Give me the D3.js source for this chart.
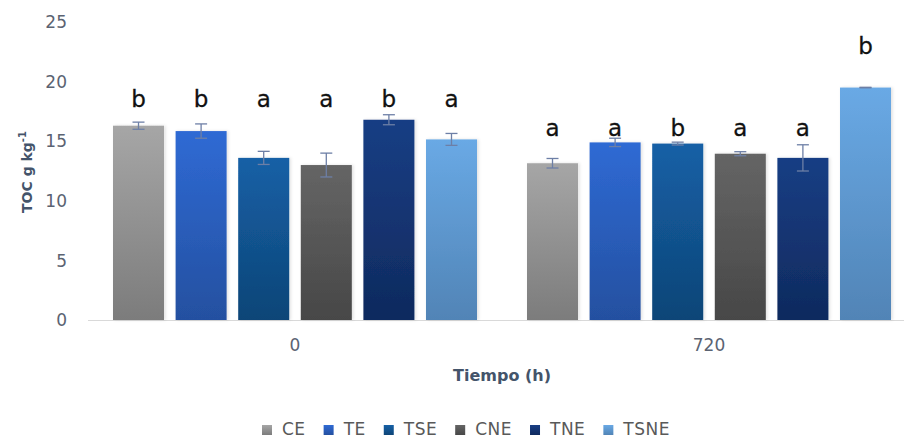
<!DOCTYPE html>
<html><head><meta charset="utf-8">
<script src="https://cdn.jsdelivr.net/npm/d3@7"></script>
<style>body{margin:0;background:#fff}svg{display:block}</style>
</head><body>
<svg id="c" width="904" height="439"></svg>
<script>
const groups = ["0", "720"];
const series = ["CE", "TE", "TSE", "CNE", "TNE", "TSNE"];
const values0 = [16.3, 15.85, 13.6, 13.0, 16.8, 15.15];
const values720 = [13.15, 14.9, 14.8, 13.95, 13.6, 19.5];
const errors0 = [0.3, 0.6, 0.55, 1.0, 0.42, 0.5];
const errors720 = [0.4, 0.35, 0.12, 0.17, 1.1, 0.02];
const letters0 = ["b", "b", "a", "a", "b", "a"];
const letters720 = ["a", "a", "b", "a", "a", "b"];
const letterLevel0 = [17.87, 17.87, 17.87, 17.87, 17.87, 17.87];
const letterLevel720 = [15.44, 15.44, 15.44, 15.44, 15.44, 22.3];
const yTicks = [0, 5, 10, 15, 20, 25];
const colorsTop = ["#a6a6a6", "#2f6ad4", "#1560a6", "#656565", "#183e84", "#69a9e5"];
const colorsBottom = ["#7c7c7c", "#2450a0", "#0e4577", "#474747", "#0f2a5e", "#5184b6"];

const svg = d3.select("#c");
const defs = svg.append("defs");
series.forEach((s, i) => {
  const g = defs.append("linearGradient").attr("id", "g" + i)
    .attr("x1", 0).attr("y1", 0).attr("x2", 0).attr("y2", 1);
  g.append("stop").attr("offset", "0%").attr("stop-color", colorsTop[i]);
  g.append("stop").attr("offset", "100%").attr("stop-color", colorsBottom[i]);
});
const f = defs.append("filter").attr("id", "sh").attr("x", "-20%").attr("y", "-5%").attr("width", "140%").attr("height", "110%");
f.append("feDropShadow").attr("dx", 1.5).attr("dy", 0).attr("stdDeviation", 1.8)
  .attr("flood-color", "#000").attr("flood-opacity", 0.12);

const data = groups.map((g, gi) => ({
  group: g,
  items: series.map((s, i) => ({
    s, i,
    v: gi === 0 ? values0[i] : values720[i],
    e: gi === 0 ? errors0[i] : errors720[i],
    l: gi === 0 ? letters0[i] : letters720[i],
    ly: gi === 0 ? letterLevel0[i] : letterLevel720[i]
  }))
}));

const y = d3.scaleLinear().domain([0, 25]).range([320, 22]);
const x0 = d3.scaleBand().domain(groups).range([88, 916]).padding(0);
const x1 = d3.scaleBand().domain(series).range([25, x0.bandwidth() - 25]).paddingInner(0.185).paddingOuter(0);

// y ticks
const tickColor = "#5b6372";
svg.append("g").selectAll("text").data(yTicks).join("text")
  .attr("x", 67).attr("y", d => y(d)).attr("dy", "0.36em")
  .attr("text-anchor", "end")
  .attr("font-family", "DejaVu Sans").attr("font-size", 17)
  .attr("fill", tickColor).text(d => d);

// baseline
svg.append("line").attr("x1", 88).attr("x2", 904).attr("y1", y(0) + 0.5).attr("y2", y(0) + 0.5)
  .attr("stroke", "#d9d9d9").attr("stroke-width", 1);

const gg = svg.append("g").selectAll("g").data(data).join("g")
  .attr("transform", d => `translate(${x0(d.group)},0)`);

gg.selectAll("rect").data(d => d.items).join("rect")
  .attr("x", d => x1(d.s)).attr("width", x1.bandwidth())
  .attr("y", d => y(d.v)).attr("height", d => y(0) - y(d.v))
  .attr("fill", d => `url(#g${d.i})`).attr("filter", "url(#sh)");

const eb = gg.selectAll("g.eb").data(d => d.items).join("g").attr("class", "eb")
  .attr("stroke", "#6d7fa6").attr("stroke-width", 1.3);
eb.append("line")
  .attr("x1", d => x1(d.s) + x1.bandwidth() / 2).attr("x2", d => x1(d.s) + x1.bandwidth() / 2)
  .attr("y1", d => y(d.v + d.e)).attr("y2", d => y(d.v - d.e));
eb.append("line")
  .attr("x1", d => x1(d.s) + x1.bandwidth() / 2 - 6).attr("x2", d => x1(d.s) + x1.bandwidth() / 2 + 6)
  .attr("y1", d => y(d.v + d.e)).attr("y2", d => y(d.v + d.e));
eb.append("line")
  .attr("x1", d => x1(d.s) + x1.bandwidth() / 2 - 6).attr("x2", d => x1(d.s) + x1.bandwidth() / 2 + 6)
  .attr("y1", d => y(d.v - d.e)).attr("y2", d => y(d.v - d.e));

gg.selectAll("text.lt").data(d => d.items).join("text").attr("class", "lt")
  .attr("x", d => x1(d.s) + x1.bandwidth() / 2).attr("y", d => y(d.ly))
  .attr("text-anchor", "middle").attr("font-family", "DejaVu Sans").attr("font-size", 23)
  .attr("stroke", "#111").attr("stroke-width", 0.3)
  .attr("fill", "#111").text(d => d.l);

// x tick labels
svg.append("g").selectAll("text").data(groups).join("text")
  .attr("x", d => x0(d) + x0.bandwidth() / 2).attr("y", 351)
  .attr("text-anchor", "middle").attr("font-family", "DejaVu Sans").attr("font-size", 17)
  .attr("fill", tickColor).text(d => d);

// axis titles
const titleColor = "#44546a";
svg.append("text").attr("x", 502).attr("y", 381).attr("text-anchor", "middle")
  .attr("font-family", "DejaVu Sans").attr("font-weight", "bold").attr("font-size", 16)
  .attr("fill", titleColor).text("Tiempo (h)");
const yt = svg.append("text").attr("transform", "translate(32,172) rotate(-90)")
  .attr("text-anchor", "middle").attr("font-family", "DejaVu Sans").attr("font-weight", "bold")
  .attr("font-size", 14).attr("fill", titleColor);
yt.append("tspan").text("TOC g kg");
yt.append("tspan").attr("dy", -6).attr("font-size", 10).text("-1");

// legend
const lg = svg.append("g");
let lx = 262;
series.forEach((s, i) => {
  lg.append("rect").attr("x", lx).attr("y", 425).attr("width", 10).attr("height", 10)
    .attr("fill", `url(#g${i})`);
  const t = lg.append("text").attr("x", lx + 20).attr("y", 435)
    .attr("font-family", "DejaVu Sans").attr("font-size", 17).attr("letter-spacing", 0.5)
    .attr("fill", "#595959").text(s);
  lx += 20 + t.node().getComputedTextLength() + 18;
});
</script>
</body></html>
